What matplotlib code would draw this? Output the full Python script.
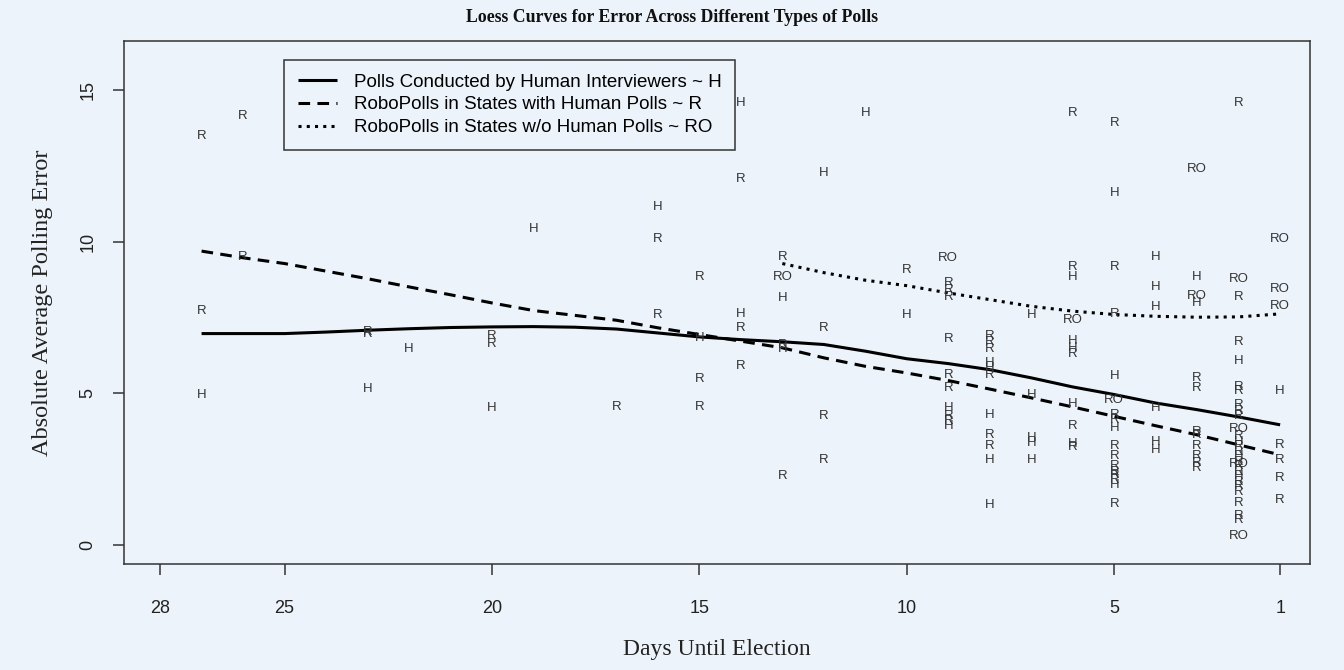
import matplotlib
matplotlib.use("Agg")
import matplotlib.pyplot as plt

# --- points: (days until election, abs. error) ---
h_days = [27, 23, 22, 20, 19, 16, 15, 14, 14, 13, 13, 12, 11, 10,
          9, 9, 8, 8, 8, 8, 8, 7, 7, 7, 7, 7,
          6, 6, 6, 6, 6, 5, 5, 5, 5, 4, 4, 4, 4, 4, 4, 3, 3,
          2, 2, 2, 2, 1]
h_vals = [4.93, 5.15, 6.47, 4.52, 10.41, 11.16, 6.83, 14.59, 7.63, 8.15, 6.45, 12.26, 14.24, 7.59,
          4.52, 3.93, 6.00, 5.84, 4.29, 2.81, 1.32, 7.59, 4.96, 3.52, 3.36, 2.81,
          8.83, 6.72, 6.50, 4.65, 3.34, 11.60, 5.56, 3.85, 1.98, 9.49, 8.50, 7.84, 4.52, 3.38, 3.12, 8.83, 7.98,
          6.08, 3.41, 2.92, 2.26, 5.07]

r_days = [27, 27, 26, 26, 23, 23, 20, 20, 17, 16, 16, 15, 15, 15,
          14, 14, 14, 13, 13, 13, 12, 12, 12, 10,
          9, 9, 9, 9, 9, 9, 9, 9,
          8, 8, 8, 8, 8, 8,
          6, 6, 6, 6, 6,
          5, 5, 5, 5, 5, 5, 5, 5, 5, 5, 5, 5,
          3, 3, 3, 3, 3, 3, 3, 3,
          2, 2, 2, 2, 2, 2, 2, 2, 2, 2, 2, 2, 2, 2, 2, 2, 2, 2, 2, 2,
          1, 1, 1, 1]
r_vals = [13.49, 7.72, 14.16, 9.50, 6.94, 7.02, 6.88, 6.64, 4.55, 10.08, 7.57, 8.82, 5.47, 4.55,
          12.06, 7.15, 5.89, 9.50, 6.60, 2.26, 7.15, 4.24, 2.81, 9.08,
          8.64, 8.40, 8.18, 6.80, 5.62, 5.18, 4.24, 4.10,
          6.90, 6.68, 6.47, 5.62, 3.63, 3.25,
          14.24, 9.16, 6.30, 3.93, 3.23,
          13.90, 9.16, 7.60, 4.29, 4.13, 3.25, 2.94, 2.59, 2.42, 2.31, 2.15, 1.35,
          5.51, 5.18, 3.74, 3.63, 3.25, 2.92, 2.70, 2.53,
          14.57, 8.17, 6.68, 5.21, 5.07, 4.63, 4.40, 4.24, 3.58, 3.25, 3.08, 2.75, 2.59,
          2.42, 2.09, 1.93, 1.76, 1.38, 0.94, 0.83,
          3.28, 2.81, 2.20, 1.49]

ro_days = [13, 9, 6, 5, 3, 3, 2, 2, 2, 2, 1, 1, 1]
ro_vals = [8.82, 9.45, 7.41, 4.79, 12.39, 8.20, 8.78, 3.82, 2.66, 0.30, 10.08, 8.45, 7.87]

# --- loess curves ---
curve_days = [27, 26, 25, 24, 23, 22, 21, 20, 19, 18, 17, 16, 15, 14,
              13, 12, 11, 10, 9, 8, 7, 6, 5, 4, 3, 2, 1]
curve_h = [6.97, 6.97, 6.97, 7.02, 7.08, 7.13, 7.17, 7.19, 7.20, 7.18, 7.12, 6.99, 6.86, 6.77,
           6.70, 6.61, 6.39, 6.14, 5.98, 5.78, 5.51, 5.21, 4.96, 4.68, 4.46, 4.22, 3.96]
curve_r = [9.69, 9.47, 9.28, 9.03, 8.78, 8.51, 8.25, 7.98, 7.73, 7.57, 7.41, 7.16, 6.94, 6.72,
           6.50, 6.17, 5.89, 5.67, 5.42, 5.14, 4.85, 4.55, 4.24, 3.93, 3.63, 3.30, 2.97]
curve_ro_days = [13, 12, 11, 10, 9, 8, 7, 6, 5, 4, 3, 2, 1]
curve_ro = [9.28, 8.98, 8.73, 8.55, 8.31, 8.09, 7.87, 7.71, 7.60, 7.54, 7.51, 7.52, 7.62]

x_ticks = [28, 25, 20, 15, 10, 5, 1]
y_ticks = [0, 5, 10, 15]

bg = "#EDF3FA"
ink = "#333333"
serif = ["Liberation Serif", "DejaVu Serif"]
sans = ["Liberation Sans", "DejaVu Sans"]

fig = plt.figure(figsize=(13.44, 6.70), dpi=100, facecolor=bg)
ax = fig.add_axes([124 / 1344, 1 - 564 / 670, (1310 - 124) / 1344, (564 - 41) / 670])
ax.set_facecolor(bg)

for days, vals, lab in [(h_days, h_vals, "H"), (r_days, r_vals, "R"), (ro_days, ro_vals, "RO")]:
    for d, v in zip(days, vals):
        ax.text(d, v, lab, ha="center", va="center", fontsize=9.5, color=ink, family=sans)

ax.plot(curve_days, curve_h, color="black", lw=2.2, solid_capstyle="butt",
        label="Polls Conducted by Human Interviewers ~ H")
ax.plot(curve_days, curve_r, color="black", lw=2.2, linestyle=(0, (3.8, 2.4)), dash_capstyle="butt",
        label="RoboPolls in States with Human Polls ~ R")
ax.plot(curve_ro_days, curve_ro, color="black", lw=2.2, linestyle=(0, (1, 1.7)), dash_capstyle="butt",
        label="RoboPolls in States w/o Human Polls ~ RO")

ax.set_xlim(28.87, 0.28)
ax.set_ylim(-0.63, 16.62)
ax.set_xticks(x_ticks)
ax.set_yticks(y_ticks)
ax.tick_params(axis="both", direction="out", length=8, width=1.1, color=ink, labelcolor="#222222",
               labelsize=13)
ax.tick_params(axis="x", pad=18)
ax.tick_params(axis="y", pad=12)
for t in ax.get_xticklabels() + ax.get_yticklabels():
    t.set_family(sans)
for t in ax.get_yticklabels():
    t.set_rotation(90)
    t.set_va("center")
for s in ax.spines.values():
    s.set_color(ink)
    s.set_linewidth(1.1)

ax.set_xlabel("Days Until Election", fontsize=17, family=serif, color="#222222", labelpad=16)
ax.set_ylabel("Absolute Average Polling Error", fontsize=17.5, family=serif, color="#222222", labelpad=19)
fig.text(0.5, 1 - 17 / 670, "Loess Curves for Error Across Different Types of Polls",
         ha="center", va="center", fontsize=12.8, fontweight="bold", family=serif, color="#111111")

leg = ax.legend(loc="upper left", bbox_to_anchor=((284 - 124) / 1186, 1 - (60 - 41) / 523),
                borderaxespad=0, frameon=True, fancybox=False, framealpha=1, facecolor=bg,
                edgecolor=ink, prop={"family": sans, "size": 13.5}, handlelength=2.1,
                handletextpad=0.9, labelspacing=0.3, borderpad=0.72)
leg.get_frame().set_linewidth(1.1)

fig.savefig("out.png", dpi=100, facecolor=bg)
